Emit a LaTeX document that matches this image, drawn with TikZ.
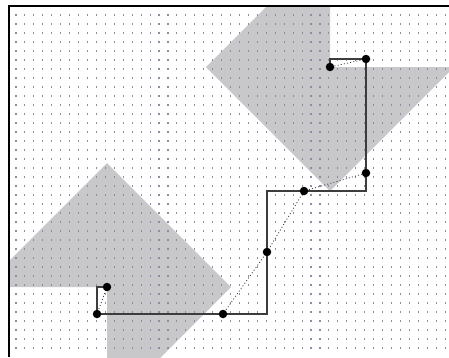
\documentclass[tikz,border=0pt]{standalone}
\usetikzlibrary{backgrounds}
\definecolor{shade}{RGB}{200,200,203}
\definecolor{griddot}{RGB}{140,140,165}
\definecolor{pathcol}{RGB}{60,60,60}
\tikzset{
  pt/.style={circle,fill=black,inner sep=0pt,minimum size=8.5pt},
  route/.style={draw=pathcol,line width=1.3pt},
  smooth route/.style={draw=pathcol,line width=0.8pt,dash pattern=on 1pt off 2.2pt},
  frame/.style={draw=black,line width=1.2pt},
  region/.style={fill=shade,draw=none}
}
\begin{document}
\begin{tikzpicture}[x=1pt,y=-1pt]
\node[pt] (n1) at (107,287) {};
\node[pt] (n2) at (97,314) {};
\node[pt] (n3) at (223,314) {};
\node[pt] (n4) at (267,252) {};
\node[pt] (n5) at (304,191) {};
\node[pt] (n6) at (366,173) {};
\node[pt] (n7) at (366,59) {};
\node[pt] (n8) at (330,67) {};
\coordinate (tl) at (9,6);
\coordinate (tr) at (449,6);
\coordinate (bl) at (9,357);
\begin{scope}[on background layer]
\useasboundingbox (0,0) rectangle (449,357);
\fill[white] (0,0) rectangle (449,357);
\begin{scope}
\clip (9,6) rectangle (449,357);
\path[region] (330,67) -- (330,-57) -- (206,67) -- (330,191) -- (454,67) -- cycle;
\path[region] (107,287) -- (107,411) -- (231,287) -- (107,163) -- (-17,287) -- cycle;
\foreach \i in {0,...,48}{
  \foreach \j in {0,...,37}{
    \fill[griddot] ({16+\i*8.94-0.55},{15+\j*9-0.55}) rectangle ++(1.1,1.1);
  }
}
\end{scope}
\draw[frame] (tr) -- (tl) -- (bl);
\draw[smooth route] (n1.center) -- (n2.center) -- (n3.center) -- (n4.center) -- (n5.center) -- (n6.center) -- (n7.center) -- (n8.center);
\draw[route] (n1.center) -| (n2.center) -- (n3.center) -| (n4.center) |- (n5.center) -| (n6.center) -- (n7.center) -| (n8.center);
\end{scope}
\end{tikzpicture}
\end{document}
